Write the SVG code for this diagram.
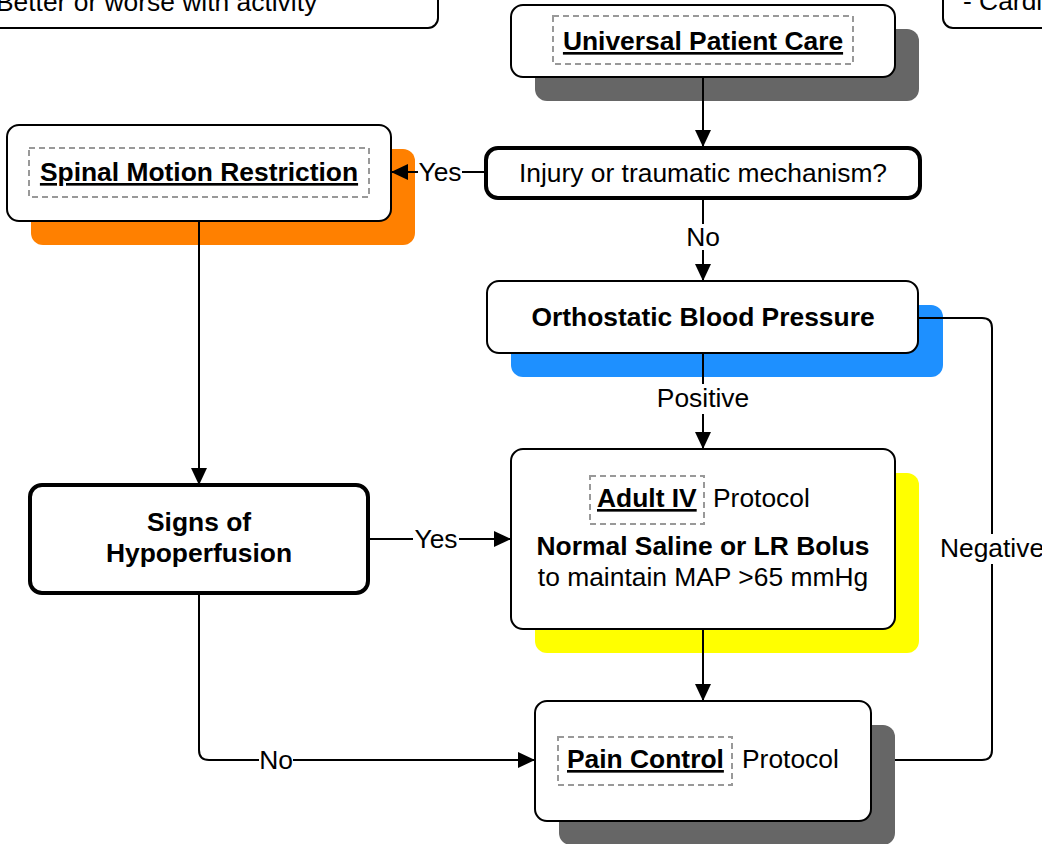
<svg xmlns="http://www.w3.org/2000/svg" width="1042" height="844" viewBox="0 0 1042 844">
  <style>
    text { font-family: "Liberation Sans", Arial, sans-serif; font-size: 26.4px; fill: #000; }
    .b { font-weight: bold; }
    .u { text-decoration: underline; }
    .box { fill: #fff; stroke: #000; stroke-width: 2; }
    .thick { stroke-width: 4; }
    .link { fill: none; stroke: #999; stroke-width: 2; stroke-dasharray: 6 4; }
    .conn { fill: none; stroke: #000; stroke-width: 2; }
    .lbl { fill: #fff; }
    .sh-grey { fill: #666666; }
    .sh-orange { fill: #FF8000; }
    .sh-blue { fill: #1E90FF; }
    .sh-yellow { fill: #FFFF00; }
  </style>
  <defs>
    <marker id="arrow" markerUnits="userSpaceOnUse" markerWidth="17" markerHeight="16" refX="17" refY="8" orient="auto">
      <path d="M0,0 L17,8 L0,16 z" fill="#000"/>
    </marker>
  </defs>

  <rect width="1042" height="844" fill="#fff"/>

  <!-- partial boxes at the top edge -->
  <g id="symptoms-box">
    <rect class="box" x="-20" y="-60" width="458" height="88" rx="10"/>
    <text x="-4" y="11">Better or worse with activity</text>
  </g>
  <g id="differential-box">
    <rect class="box" x="943" y="-60" width="140" height="88" rx="10"/>
    <text x="963" y="10">- Cardiac</text>
  </g>

  <g id="universal-care">
    <rect class="sh-grey" x="535" y="29" width="384" height="72" rx="12"/>
    <rect class="box" x="511" y="5" width="384" height="72" rx="12"/>
    <rect class="link" x="553" y="16" width="300" height="48"/>
    <text class="b u" x="703" y="50" text-anchor="middle">Universal Patient Care</text>
  </g>

  <g id="spinal-motion">
    <rect class="sh-orange" x="31" y="149" width="384" height="96" rx="12"/>
    <rect class="box" x="7" y="125" width="384" height="96" rx="12"/>
    <rect class="link" x="29" y="148" width="340" height="49"/>
    <text class="b u" x="199" y="181" text-anchor="middle">Spinal Motion Restriction</text>
  </g>

  <g id="injury-question">
    <rect class="box thick" x="486" y="148" width="434" height="50" rx="12"/>
    <text x="703" y="182" text-anchor="middle">Injury or traumatic mechanism?</text>
  </g>

  <g id="orthostatic-bp">
    <rect class="sh-blue" x="511" y="305" width="432" height="72" rx="12"/>
    <rect class="box" x="487" y="281" width="431" height="72" rx="12"/>
    <text class="b" x="703" y="326" text-anchor="middle">Orthostatic Blood Pressure</text>
  </g>

  <g id="hypoperfusion">
    <rect class="box thick" x="30" y="485" width="338" height="108" rx="12"/>
    <text class="b" x="199" y="531" text-anchor="middle">Signs of</text>
    <text class="b" x="199" y="562" text-anchor="middle">Hypoperfusion</text>
  </g>

  <g id="adult-iv">
    <rect class="sh-yellow" x="535" y="473" width="384" height="180" rx="12"/>
    <rect class="box" x="511" y="449" width="384" height="180" rx="12"/>
    <rect class="link" x="590" y="476" width="114" height="48"/>
    <text class="b u" x="597" y="507">Adult IV</text>
    <text x="713" y="507">Protocol</text>
    <text class="b" x="703" y="555" text-anchor="middle">Normal Saline or LR Bolus</text>
    <text x="703" y="586" text-anchor="middle">to maintain MAP &gt;65 mmHg</text>
  </g>

  <g id="pain-control">
    <rect class="sh-grey" x="559" y="725" width="336" height="120" rx="12"/>
    <rect class="box" x="535" y="701" width="336" height="120" rx="12"/>
    <rect class="link" x="558" y="737" width="174" height="48"/>
    <text class="b u" x="567" y="768">Pain Control</text>
    <text x="742" y="768">Protocol</text>
  </g>

  <g id="connectors">
    <path class="conn" d="M703,77 V147" marker-end="url(#arrow)"/>
    <path class="conn" d="M486,172 H391" marker-end="url(#arrow)"/>
    <path class="conn" d="M703,198 V281" marker-end="url(#arrow)"/>
    <path class="conn" d="M703,353 V449" marker-end="url(#arrow)"/>
    <path class="conn" d="M199,221 V485" marker-end="url(#arrow)"/>
    <path class="conn" d="M368,539 H511" marker-end="url(#arrow)"/>
    <path class="conn" d="M703,629 V701" marker-end="url(#arrow)"/>
    <path class="conn" d="M199,593 V750 Q199,760 209,760 H535" marker-end="url(#arrow)"/>
    <path class="conn" d="M918,318 H982 Q992,318 992,328 V750 Q992,760 982,760 H895"/>

    <!-- connector labels -->
    <rect class="lbl" x="418" y="160" width="44" height="26"/>
    <text x="440" y="181" text-anchor="middle">Yes</text>
    <rect class="lbl" x="686" y="224" width="34" height="26"/>
    <text x="703" y="246" text-anchor="middle">No</text>
    <rect class="lbl" x="655" y="384" width="96" height="30"/>
    <text x="703" y="407" text-anchor="middle">Positive</text>
    <rect class="lbl" x="413" y="527" width="46" height="26"/>
    <text x="436" y="548" text-anchor="middle">Yes</text>
    <rect class="lbl" x="259" y="748" width="34" height="26"/>
    <text x="276" y="769" text-anchor="middle">No</text>
    <rect class="lbl" x="939" y="534" width="106" height="30"/>
    <text x="992" y="557" text-anchor="middle">Negative</text>
  </g>
</svg>
